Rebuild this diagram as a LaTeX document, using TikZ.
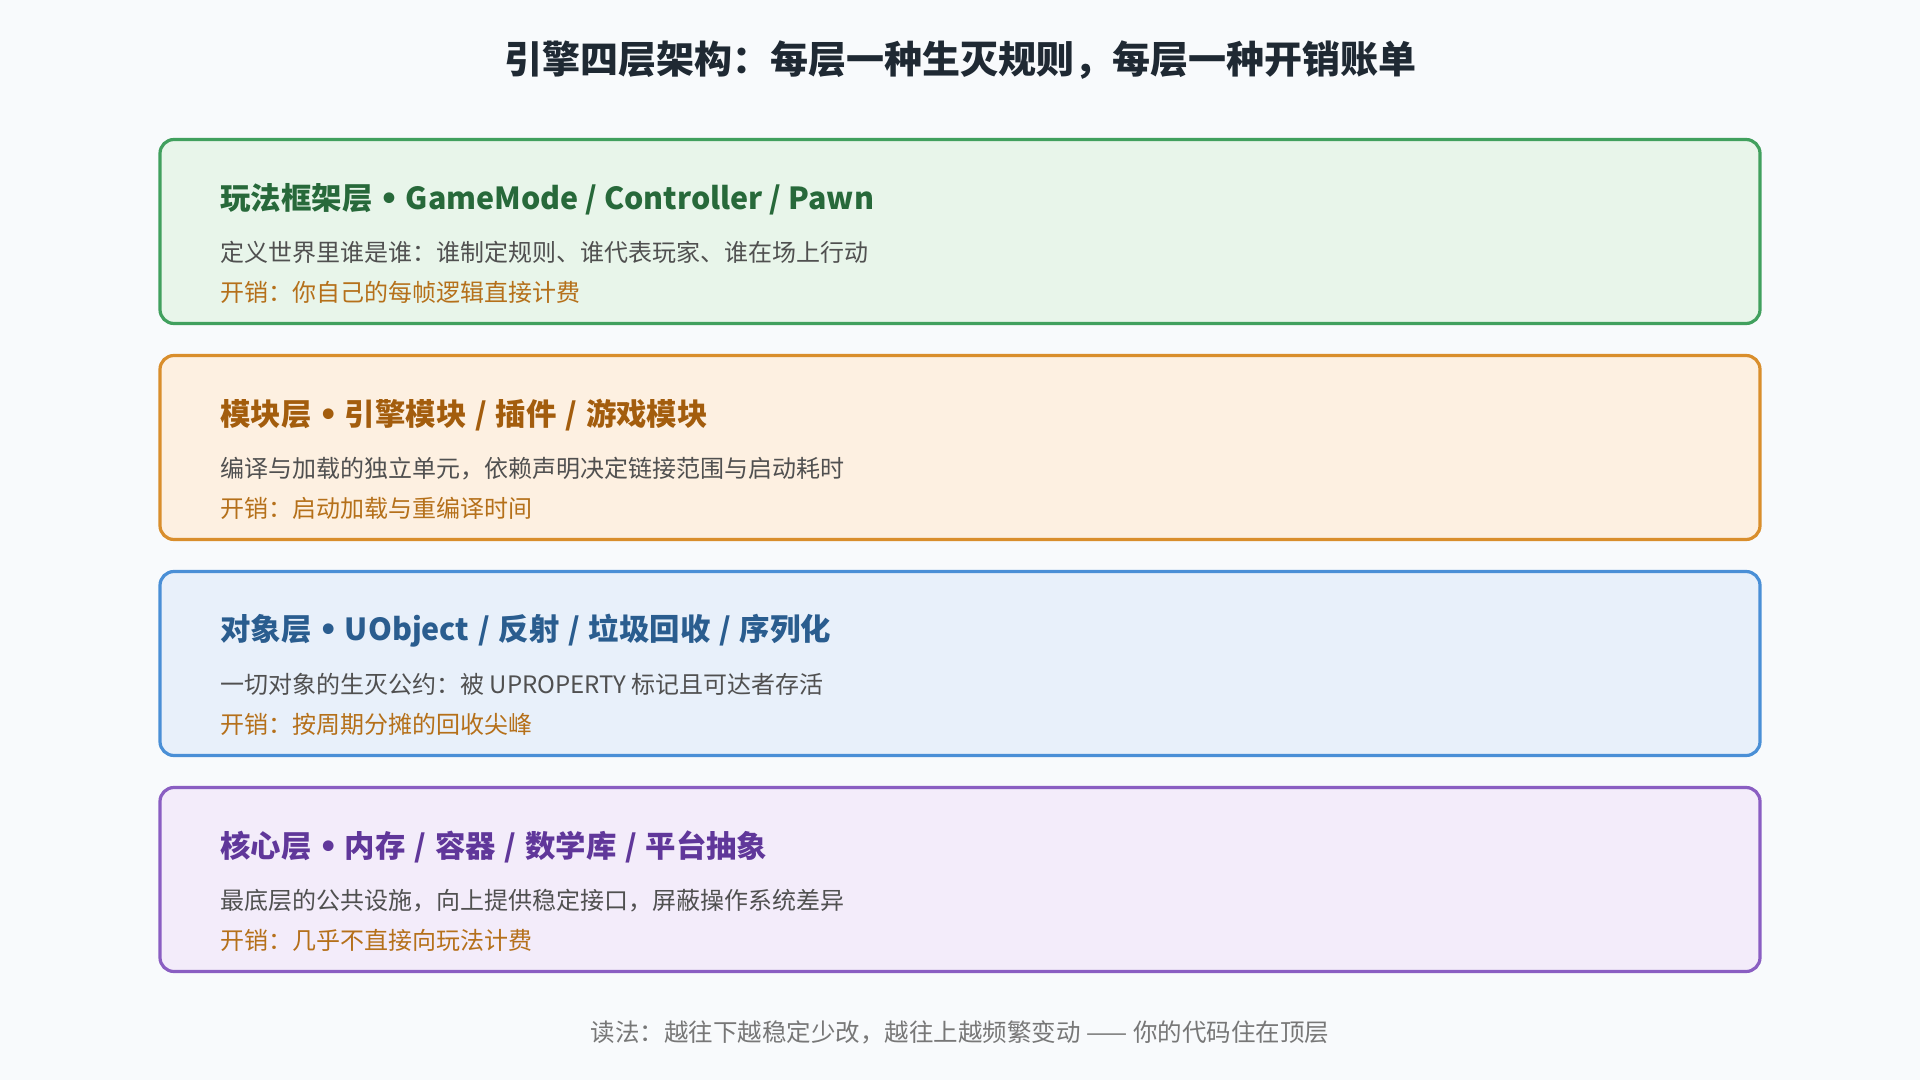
\documentclass[tikz,border=0pt]{standalone}
\usepackage{fontspec}
\setmainfont{Noto Sans CJK SC}
\newfontfamily\bulletfont{DejaVu Sans}
\newcommand{\sepdot}{~{\bulletfont\char"2022}~}
\newcommand{\sepsl}{\hspace{0.29em}/\hspace{0.29em}}
\definecolor{bg}{HTML}{F8FAFC}
\definecolor{titlec}{HTML}{1F2933}
\definecolor{descc}{HTML}{505050}
\definecolor{costc}{HTML}{B5701A}
\definecolor{footc}{HTML}{777777}
\definecolor{gB}{HTML}{41A05E}\definecolor{gF}{HTML}{E8F5EA}\definecolor{gT}{HTML}{27693A}
\definecolor{oB}{HTML}{D98E2C}\definecolor{oF}{HTML}{FDF0E1}\definecolor{oT}{HTML}{A35D0D}
\definecolor{bB}{HTML}{4A8FD6}\definecolor{bF}{HTML}{E8F0FA}\definecolor{bT}{HTML}{2A5D8F}
\definecolor{pB}{HTML}{8A5EC2}\definecolor{pF}{HTML}{F3ECFA}\definecolor{pT}{HTML}{60379A}
\tikzset{
  layer/.style={draw=#1, line width=1.6pt, rounded corners=7pt, minimum width=800pt, minimum height=92pt, inner sep=0pt},
  headt/.style={anchor=west, inner sep=0pt, font=\fontsize{15.2pt}{18pt}\selectfont\bfseries, text=#1},
  desct/.style={anchor=west, inner sep=0pt, font=\fontsize{12pt}{14pt}\selectfont, text=descc},
  costt/.style={anchor=west, inner sep=0pt, font=\fontsize{12pt}{14pt}\selectfont, text=costc},
}
\begin{document}
\begin{tikzpicture}[x=0.5pt,y=-0.5pt]
\fill[bg] (0,0) rectangle (1920,1080);
\useasboundingbox (0,0) rectangle (1920,1080);
\node[inner sep=0pt, font=\fontsize{19pt}{22pt}\selectfont\bfseries, text=titlec] (title) at (960,60) {引擎四层架构：每层一种生灭规则，每层一种开销账单};

% layer 1
\node[layer=gB, fill=gF] (L1) at (960,231.5) {};
\node[headt=gT] (h1) at (220,199) {玩法框架层\sepdot GameMode / Controller / Pawn};
\node[desct] (d1) at (220,252.5) {定义世界里谁是谁：谁制定规则、谁代表玩家、谁在场上行动};
\node[costt] (c1) at (220,292.5) {开销：你自己的每帧逻辑直接计费};

% layer 2
\node[layer=oB, fill=oF] (L2) at (960,447.5) {};
\node[headt=oT] (h2) at (220,415) {模块层\sepdot 引擎模块\sepsl 插件\sepsl 游戏模块};
\node[desct] (d2) at (220,468.5) {编译与加载的独立单元，依赖声明决定链接范围与启动耗时};
\node[costt] (c2) at (220,508.5) {开销：启动加载与重编译时间};

% layer 3
\node[layer=bB, fill=bF] (L3) at (960,663.5) {};
\node[headt=bT] (h3) at (220,631) {对象层\sepdot UObject\sepsl 反射\sepsl 垃圾回收\sepsl 序列化};
\node[desct] (d3) at (220,684.5) {一切对象的生灭公约：被 UPROPERTY 标记且可达者存活};
\node[costt] (c3) at (220,724.5) {开销：按周期分摊的回收尖峰};

% layer 4
\node[layer=pB, fill=pF] (L4) at (960,879.5) {};
\node[headt=pT] (h4) at (220,847) {核心层\sepdot 内存\sepsl 容器\sepsl 数学库\sepsl 平台抽象};
\node[desct] (d4) at (220,900.5) {最底层的公共设施，向上提供稳定接口，屏蔽操作系统差异};
\node[costt] (c4) at (220,940.5) {开销：几乎不直接向玩法计费};

\node[inner sep=0pt, font=\fontsize{12.25pt}{14pt}\selectfont, text=footc] (foot) at (960,1032) {读法：越往下越稳定少改，越往上越频繁变动 —— 你的代码住在顶层};
\end{tikzpicture}
\end{document}
